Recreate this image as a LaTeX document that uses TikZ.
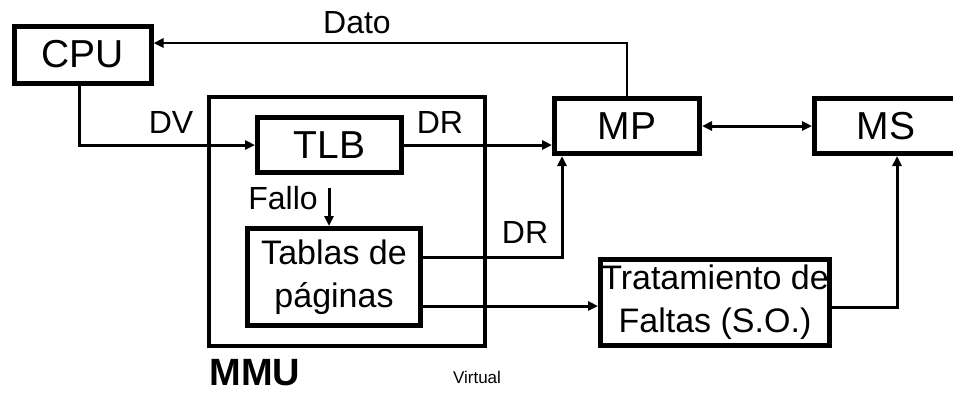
\documentclass[tikz,border=0pt]{standalone}
\usepackage{fontspec}
\setmainfont{Liberation Sans}
\usetikzlibrary{arrows.meta}
\begin{document}
\begin{tikzpicture}[x=1pt,y=-1pt,
  block/.style={draw=black,line width=5pt,rectangle,inner sep=0pt,fill=white},
  conn/.style={line width=3pt,-{Triangle[length=10pt,width=9pt]}},
  lbl/.style={inner sep=0pt,font=\fontsize{32}{36}\selectfont}]
\useasboundingbox (0,0) rectangle (953,392);
\begin{scope}
\clip (0,0) rectangle (953,392);
% outer MMU frame
\node[block,line width=4.5pt,minimum width=276pt,minimum height=249pt] (mmu) at (347,221.5) {};
% blocks
\node[block,minimum width=137pt,minimum height=57pt,font=\fontsize{39}{40}\selectfont] (cpu) at (82.5,54.5) {CPU};
\node[block,minimum width=144pt,minimum height=55pt,font=\fontsize{39}{40}\selectfont] (tlb) at (329.5,145) {TLB};
\node[block,minimum width=145pt,minimum height=55pt,font=\fontsize{39}{40}\selectfont] (mp) at (627,126) {MP};
\node[block,minimum width=143pt,minimum height=55pt,font=\fontsize{39}{40}\selectfont] (ms) at (886,126) {MS};
\node[block,minimum width=173pt,minimum height=97pt,align=center,font=\fontsize{34}{43}\selectfont] (tab) at (334,277) {Tablas de\\ páginas};
\node[block,minimum width=229pt,minimum height=86pt,align=center,font=\fontsize{34}{43}\selectfont] (tra) at (715,302.5) {Tratamiento de\\ Faltas (S.O.)};
\end{scope}
% helper points for the bends
\coordinate (cpuout) at (79,83);
\coordinate (dvbend) at (79,145);
\coordinate (datobend) at (627,43);
\coordinate (drbend) at (562,257);
\coordinate (msbend) at (897,307);
\coordinate (fallo) at (329,188);
% connectors
\draw[conn] (cpuout) -- (dvbend) -- (dvbend -| tlb.west);
\draw[conn,line width=2.7pt] (mp.north) -- (datobend) -- (datobend -| cpu.east);
\draw[conn] (tlb.east) -- (tlb.east -| mp.west);
\draw[line width=3pt,{Triangle[length=10pt,width=9pt]}-{Triangle[length=10pt,width=9pt]}] (mp.east) -- (ms.west);
\draw[conn] (drbend -| tab.east) -- (drbend) -- (drbend |- mp.south);
\draw[conn] (tab.east |- 0,306) -- (tra.west |- 0,306);
\draw[conn] (msbend -| tra.east) -- (msbend) -- (msbend |- ms.south);
\draw[conn] (fallo) -- (fallo |- tab.north);
% labels
\node[lbl] (ldato) at (357,23) {Dato};
\node[lbl] (ldv) at (171,122) {DV};
\node[lbl] (ldr1) at (440,122) {DR};
\node[lbl] (ldr2) at (525,232) {DR};
\node[lbl] (lfallo) at (283,198) {Fallo};
\node[inner sep=0pt,font=\fontsize{38}{40}\selectfont\bfseries] (lmmu) at (255,373) {MMU};
\node[inner sep=0pt,font=\fontsize{17}{19}\selectfont] (lvirt) at (477,377) {Virtual};
\end{tikzpicture}
\end{document}
